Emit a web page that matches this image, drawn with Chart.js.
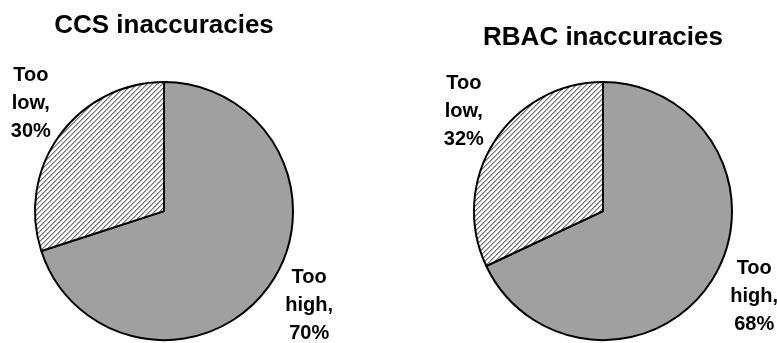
<!DOCTYPE html>
<html>
<head>
<meta charset="utf-8">
<script src="https://cdn.jsdelivr.net/npm/chart.js@4.4.1/dist/chart.umd.min.js"></script>
<style>
  html, body { margin: 0; padding: 0; background: #ffffff; }
  #wrap { position: relative; width: 777px; height: 343px; overflow: hidden; }
  canvas { position: absolute; top: 0; }
  #ccs-chart { left: 0; }
  #rbac-chart { left: 390px; }
</style>
</head>
<body>
<div id="wrap">
  <canvas id="ccs-chart" width="390" height="343"></canvas>
  <canvas id="rbac-chart" width="387" height="343"></canvas>
</div>
<script>
// Slices go clockwise from 12 o'clock: "too high" first, then "too low"
const SLICE_NAMES = [["Too", "high,"], ["Too", "low,"]];
const CCS_VALUES = [70, 30];
const RBAC_VALUES = [68, 32];
const CCS_TITLE = "CCS inaccuracies";
const RBAC_TITLE = "RBAC inaccuracies";

const FONT_FAMILY = "Arial, 'Liberation Sans', Helvetica, sans-serif";

// Diagonal hatch for the smaller slice
function makeHatch() {
  const size = 5;
  const tile = document.createElement("canvas");
  tile.width = size;
  tile.height = size;
  const tctx = tile.getContext("2d");
  const img = tctx.createImageData(size, size);
  for (let y = 0; y < size; y++) {
    for (let x = 0; x < size; x++) {
      const k = (x + y) % size;
      let v = 255;
      if (k === 0) v = 115;
      else if (k === 1) v = 180;
      const p = (y * size + x) * 4;
      img.data[p] = img.data[p + 1] = img.data[p + 2] = v;
      img.data[p + 3] = 255;
    }
  }
  tctx.putImageData(img, 0, 0);
  return tctx.createPattern(tile, "repeat");
}

// Three-line labels just outside each slice
const sliceLabels = {
  id: "sliceLabels",
  afterDatasetsDraw(chart) {
    const ctx = chart.ctx;
    const meta = chart.getDatasetMeta(0);
    const values = chart.data.datasets[0].data;
    ctx.save();
    ctx.font = "bold 20px " + FONT_FAMILY;
    ctx.fillStyle = "#000000";
    ctx.textAlign = "center";
    ctx.textBaseline = "middle";
    meta.data.forEach((arc, i) => {
      const { x, y, startAngle, endAngle, outerRadius } =
        arc.getProps(["x", "y", "startAngle", "endAngle", "outerRadius"], true);
      const mid = (startAngle + endAngle) / 2;
      const dist = outerRadius + 43;
      const cx = x + Math.cos(mid) * dist + 6;
      const cy = y + Math.sin(mid) * dist - 7;
      const lines = [...SLICE_NAMES[i], values[i] + "%"];
      lines.forEach((line, k) => ctx.fillText(line, cx, cy + (k - 1) * 28));
    });
    ctx.restore();
  }
};

function drawPie(canvasId, title, values, padding, titlePadding) {
  const ctx = document.getElementById(canvasId).getContext("2d");
  return new Chart(ctx, {
    type: "pie",
    data: {
      labels: SLICE_NAMES.map((n) => n.join(" ")),
      datasets: [
        {
          data: values,
          backgroundColor: ["#a0a0a0", makeHatch()],
          borderColor: "#000000",
          borderWidth: 2,
        },
      ],
    },
    options: {
      responsive: false,
      animation: false,
      radius: 129,
      layout: { padding },
      plugins: {
        legend: { display: false },
        tooltip: { enabled: false },
        title: {
          display: true,
          text: title,
          color: "#000000",
          font: { family: FONT_FAMILY, size: 26, weight: "bold", lineHeight: 1.2 },
          padding: titlePadding,
        },
      },
    },
    plugins: [sliceLabels],
  });
}

drawPie("ccs-chart", CCS_TITLE, CCS_VALUES,
  { left: 0, right: 62, top: 0, bottom: 0 }, { top: 10, bottom: 38 });
drawPie("rbac-chart", RBAC_TITLE, RBAC_VALUES,
  { left: 39, right: 0, top: 0, bottom: 0 }, { top: 22, bottom: 26 });
</script>
</body>
</html>
